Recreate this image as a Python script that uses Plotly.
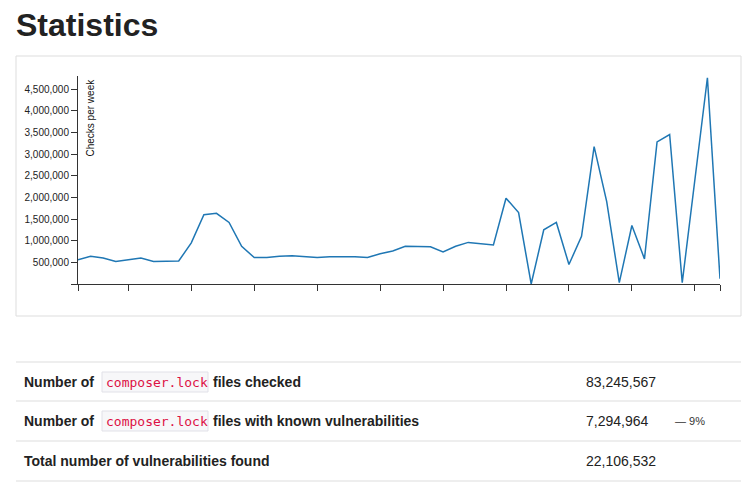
import plotly.graph_objects as go

W, H = 750, 483
OFF = 8  # page body margin shifts the figure

weeks = list(range(52))
checks = [560000, 640000, 600000, 520000, 560000, 600000, 520000, 530000, 530000, 950000,
          1600000, 1630000, 1420000, 870000, 610000, 610000, 640000, 650000, 630000, 610000,
          630000, 630000, 630000, 610000, 700000, 760000, 870000, 865000, 860000, 740000,
          870000, 960000, 930000, 900000, 1980000, 1650000, 0, 1250000, 1420000, 450000,
          1100000, 3170000, 1900000, 30000, 1350000, 580000, 3280000, 3450000, 30000, 2400000,
          4760000, 120000]
tick_weeks = [0, 4, 9, 14, 19, 24, 29, 34, 39, 44, 49, 51]
y_ticks = [500000, 1000000, 1500000, 2000000, 2500000, 3000000, 3500000, 4000000, 4500000]

rows = ["Number of", "Number of", "Total number of vulnerabilities found"]
row_tail = ["files checked", "files with known vulnerabilities", ""]
row_values = ["83,245,567", "7,294,964", "22,106,532"]


def px(x):
    return (x - OFF) / W


def py(y):
    return 1 - (y - OFF) / H


FONT = "Liberation Sans, Arial, sans-serif"

fig = go.Figure(go.Scatter(x=weeks, y=checks, mode="lines",
                           line=dict(color="#1f77b4", width=1.5), hoverinfo="skip"))

fig.update_layout(
    width=W, height=H, margin=dict(l=0, r=0, t=0, b=0),
    paper_bgcolor="white", plot_bgcolor="white", showlegend=False,
    font=dict(family=FONT, color="#222"),
    xaxis=dict(domain=[px(78), px(720)], range=[0, 51], tickvals=tick_weeks, showticklabels=False,
               showgrid=False, zeroline=False, showline=True, linecolor="#333", ticks="outside",
               ticklen=6, tickcolor="#333"),
    yaxis=dict(domain=[py(284), py(76)], range=[0, 4800000], tickvals=[0] + y_ticks,
               ticktext=[""] + [f"{v:,}" for v in y_ticks], showgrid=False, zeroline=False,
               showline=True, linecolor="#333", ticks="outside", ticklen=6, tickcolor="#333",
               tickfont=dict(size=10, color="#222")),
)

shapes = [dict(type="rect", xref="paper", yref="paper", x0=px(16), x1=px(741), y0=py(316), y1=py(56),
               line=dict(color="#ddd", width=1), layer="below")]
for y in [362, 401, 441, 481]:
    shapes.append(dict(type="line", xref="paper", yref="paper", x0=px(16), x1=px(741), y0=py(y), y1=py(y),
                       line=dict(color="#ddd", width=1)))

ann = [
    dict(text="<b>Statistics</b>", x=px(14), y=py(25), font=dict(size=32, color="#222")),
    dict(text="Checks per week", x=px(83), y=py(77), textangle=-90, yanchor="top",
         font=dict(size=10, color="#111")),
]
row_y = [382, 421, 461]
for i, label in enumerate(rows):
    ann.append(dict(text=f"<b>{label}</b>", x=px(22), y=py(row_y[i]), font=dict(size=14)))
    ann.append(dict(text=row_values[i], x=px(584), y=py(row_y[i]), font=dict(size=14)))
    if row_tail[i]:
        shapes.append(dict(type="rect", xref="paper", yref="paper", x0=px(102), x1=px(208),
                           y0=py(row_y[i] + 10), y1=py(row_y[i] - 10), fillcolor="#f7f7f9",
                           line=dict(color="#e1e1e8", width=1), layer="below"))
        ann.append(dict(text="composer.lock", x=px(104), y=py(row_y[i]),
                        font=dict(size=13, color="#dd1144", family="DejaVu Sans Mono, monospace")))
        ann.append(dict(text=f"<b>{row_tail[i]}</b>", x=px(211), y=py(row_y[i]), font=dict(size=14)))
ann.append(dict(text="— 9%", x=px(673), y=py(421), font=dict(size=11, color="#333")))

for a in ann:
    a.setdefault("yanchor", "middle")
    a.update(xref="paper", yref="paper", xanchor="left", showarrow=False)
    fig.add_annotation(**a)
fig.update_layout(shapes=shapes)

fig.write_html("out.html")
